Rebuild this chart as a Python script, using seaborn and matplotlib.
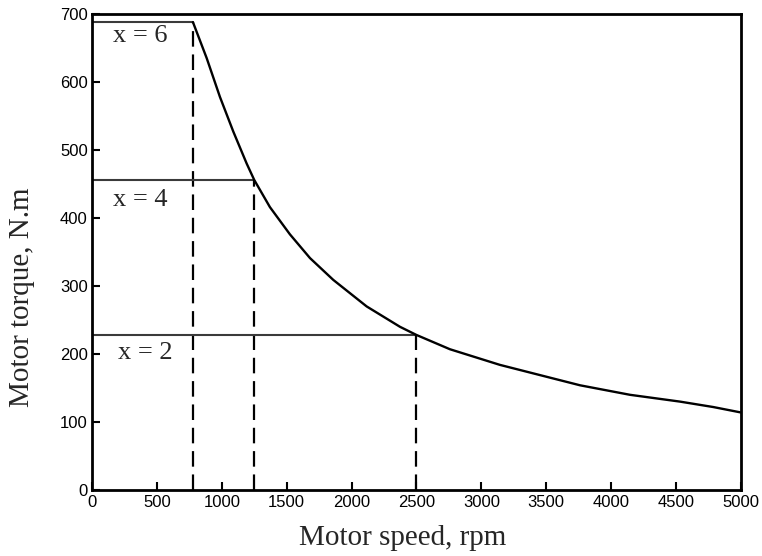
import numpy as np
import seaborn as sns
import matplotlib.pyplot as plt
import pandas as pd

# motor torque-speed curve
speed = [778, 884, 986, 1089, 1192, 1250, 1371, 1525, 1680, 1859, 2116, 2373,
         2500, 2758, 3143, 3554, 3760, 4145, 4530, 4787, 5000]
torque = [688, 635, 578, 527, 480, 456, 416, 376, 341, 309, 270, 240,
          228, 207, 184, 164, 154, 140, 130, 122, 114]

# gear ratio levels
gear_labels = ["x = 6", "x = 4", "x = 2"]
gear_torque = [688, 456, 228]
gear_speed = [778, 1250, 2500]
label_pos = [(370, 667), (370, 426), (408, 201)]

xticks = [0, 500, 1000, 1500, 2000, 2500, 3000, 3500, 4000, 4500, 5000]
yticks = [0, 100, 200, 300, 400, 500, 600, 700]

df = pd.DataFrame({"speed": speed, "torque": torque})
serif = ["Liberation Serif", "DejaVu Serif"]

sns.set_style("ticks")
plt.rcParams["font.family"] = ["Liberation Sans Narrow", "Liberation Sans", "DejaVu Sans"]
plt.rcParams["xtick.direction"] = "in"
plt.rcParams["ytick.direction"] = "in"

fig, ax = plt.subplots(figsize=(7.62, 5.56), dpi=100)
fig.subplots_adjust(left=0.1207, right=0.9724, top=0.9748, bottom=0.1187)

sns.lineplot(data=df, x="speed", y="torque", color="black", linewidth=1.7, ax=ax,
             sort=False, zorder=3)

for lab, t, s, (lx, ly) in zip(gear_labels, gear_torque, gear_speed, label_pos):
    ax.plot([0, s], [t, t], color="#3a3a3a", linewidth=1.5, zorder=2)
    ax.plot([s, s], [0, t], color="black", linewidth=1.6, dashes=(7, 3.5), zorder=2)
    ax.text(lx, ly, lab, ha="center", va="center", fontsize=19, family=serif)

ax.set_xlim(0, 5000)
ax.set_ylim(0, 700)
ax.set_xticks(xticks)
ax.set_yticks(yticks)
ax.tick_params(axis="both", labelsize=12, length=6, width=1.5, top=False, right=False,
               colors="black")
ax.tick_params(axis="y", pad=3)

for sp in ax.spines.values():
    sp.set_linewidth(2)
    sp.set_color("black")

ax.set_xlabel("Motor speed, rpm", fontsize=21, family=serif)
ax.set_ylabel("Motor torque, N.m", fontsize=21, family=serif)
ax.xaxis.set_label_coords(0.478, -0.074)
ax.yaxis.set_label_coords(-0.088, 0.405)

plt.savefig("out.png", dpi=100)
